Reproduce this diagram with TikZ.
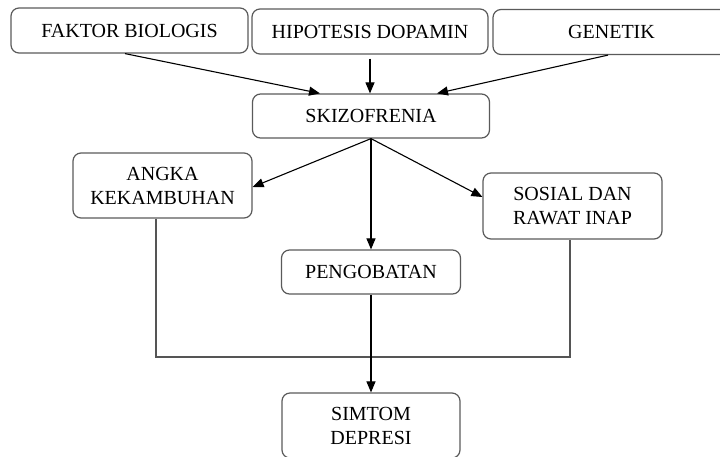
\documentclass[tikz,border=0pt]{standalone}
\usepackage{fontspec}
\setmainfont{Liberation Serif}
\usetikzlibrary{arrows.meta}
\definecolor{boxline}{HTML}{5A5A5A}
\definecolor{greyline}{HTML}{555555}
\tikzset{
  box/.style={draw=boxline, line width=1.2pt, rounded corners=8pt, inner sep=0pt,
    align=center, font=\fontsize{20}{24}\selectfont, text=black},
  arr/.style={draw=black, line width=1.1pt, -{Triangle[length=11pt,width=9pt]}},
  plain/.style={draw=greyline, line width=1.4pt},
}
\begin{document}
\begin{tikzpicture}[x=1pt,y=-1pt]
\useasboundingbox (0,0) rectangle (720,456);
\node[box, minimum width=237pt, minimum height=45pt] (fb) at (129.5,30.5) {FAKTOR BIOLOGIS};
\node[box, minimum width=236pt, minimum height=45pt] (hd) at (370,31.5) {HIPOTESIS DOPAMIN};
\node[box, minimum width=237pt, minimum height=45pt] (ge) at (611.5,32) {GENETIK};
\node[box, minimum width=237pt, minimum height=44pt] (sk) at (371,116) {SKIZOFRENIA};
\node[box, minimum width=179pt, minimum height=65pt] (ak) at (162.5,185.5) {ANGKA\\KEKAMBUHAN};
\node[box, minimum width=179pt, minimum height=66pt] (so) at (572.5,206) {SOSIAL DAN\\RAWAT INAP};
\node[box, minimum width=179pt, minimum height=44pt] (pe) at (371,272) {PENGOBATAN};
\node[box, minimum width=178pt, minimum height=65pt] (si) at (371,425.5) {SIMTOM\\DEPRESI};
\coordinate (j) at (371,357);
\draw[arr] ([xshift=-4.5pt]fb.south) -- ([xshift=-51pt]sk.north);
\draw[arr, shorten <=4pt] (hd.south) -- (hd.south |- sk.north);
\draw[arr] ([xshift=-3.5pt]ge.south) -- ([xshift=66pt]sk.north);
\draw[arr] (sk.south) -- ([yshift=-1.5pt]ak.east);
\draw[arr] (sk.south) -- ([yshift=9pt]so.west);
\draw[arr] (sk.south) -- (pe.north);
\draw[plain] ([xshift=-6.5pt]ak.south) |- (j) -| ([xshift=-2.5pt]so.south);
\draw[arr] (pe.south) -- (si.north);
\end{tikzpicture}
\end{document}
